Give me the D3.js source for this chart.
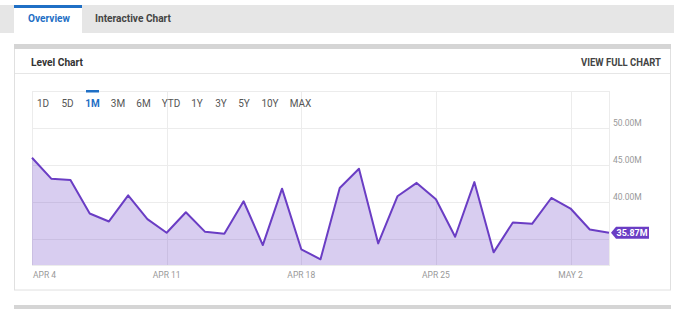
<!DOCTYPE html>
<html lang="en">
<head>
    <meta charset="UTF-8">
    <script src="https://d3js.org/d3.v7.min.js"></script>
    <style>
        body {margin: 0; background-color: #ffffff}
        svg {display: block}
        .cond {font-family: Roboto, "Noto Sans", sans-serif; font-weight: bold}
        .small {font-family: Roboto, "Noto Sans", sans-serif}
    </style>
</head>
<body>
<svg class="level_chart"></svg>
<script type="text/javascript">
    // one point per day, Apr 4 -> May 4
    let start_day = "2021-04-04";
    let level_values = [45.98, 43.16, 42.97, 38.45, 37.38, 40.91, 37.69, 35.85, 38.63, 35.98,
                        35.71, 40.11, 34.19, 41.81, 33.62, 32.27, 41.90, 44.50, 34.42, 40.78,
                        42.59, 40.38, 35.31, 42.70, 33.21, 37.24, 37.06, 40.55, 39.13, 36.30, 35.87];
    let x_tick_dates = ["2021-04-04", "2021-04-11", "2021-04-18", "2021-04-25", "2021-05-02"];
    let x_tick_labels = ["APR 4", "APR 11", "APR 18", "APR 25", "MAY 2"];
    let y_grid_values = [35, 40, 45, 50];
    let y_tick_values = [40, 45, 50];
    let range_buttons = ["1D", "5D", "1M", "3M", "6M", "YTD", "1Y", "3Y", "5Y", "10Y", "MAX"];
    let active_range = "1M";
    let last_label = "35.87M";

    let width = 674, height = 311;
    let plot = {left: 32, right: 609, top: 91, bottom: 265};

    let parse = d3.timeParse("%Y-%m-%d");
    let first = parse(start_day);
    let data = level_values.map(function (v, i) {
        return {date: d3.timeDay.offset(first, i), value: v};
    });

    let svg = d3.select(".level_chart").attr("width", width).attr("height", height);

    // squeezed bold text (condensed look)
    function cond_text(x, y, size, w, color, txt, anchor) {
        return svg.append("text").attr("class", "cond").attr("x", x).attr("y", y)
            .attr("font-size", size).attr("fill", color)
            .attr("text-anchor", anchor || "start")
            .attr("textLength", w).attr("lengthAdjust", "spacingAndGlyphs")
            .text(txt);
    }

    // tab bar
    svg.append("rect").attr("x", 0).attr("y", 5).attr("width", width).attr("height", 28).attr("fill", "#e6e6e6");
    svg.append("rect").attr("x", 14).attr("y", 5).attr("width", 68).attr("height", 28).attr("fill", "#ffffff");
    svg.append("rect").attr("x", 14).attr("y", 5).attr("width", 68).attr("height", 3).attr("fill", "#1f6fc5");
    cond_text(28, 22, 11.5, 42, "#1f6fc5", "Overview");
    cond_text(95, 22, 11.5, 76, "#444", "Interactive Chart");

    // card
    svg.append("rect").attr("x", 14.5).attr("y", 46.5).attr("width", 656).attr("height", 243.5)
        .attr("fill", "#fff").attr("stroke", "#e0e0e0");
    svg.append("rect").attr("x", 14).attr("y", 44).attr("width", 657).attr("height", 5).attr("fill", "#d5d5d5");
    svg.append("line").attr("x1", 15).attr("x2", 670).attr("y1", 73.5).attr("y2", 73.5).attr("stroke", "#e6e6e6");
    cond_text(31, 65.5, 11.5, 52, "#333", "Level Chart");
    cond_text(581, 65.5, 10, 80, "#444", "VIEW FULL CHART");

    // next card top edge
    svg.append("rect").attr("x", 14).attr("y", 305).attr("width", 657).attr("height", 4).attr("fill", "#d5d5d5");

    let x = d3.scaleTime().domain([first, data[data.length - 1].date]).range([plot.left, plot.right]);
    let y = d3.scaleLinear().domain([31.5, 55]).range([plot.bottom, plot.top]);

    // grid
    let grid = svg.append("g").attr("stroke", "#ececec").attr("fill", "none");
    grid.selectAll(".h").data(y_grid_values).enter().append("line")
        .attr("x1", plot.left).attr("x2", plot.right)
        .attr("y1", function (d) { return Math.round(y(d)) + 0.5; })
        .attr("y2", function (d) { return Math.round(y(d)) + 0.5; });
    grid.selectAll(".v").data(x_tick_dates.slice(1)).enter().append("line")
        .attr("y1", plot.top).attr("y2", plot.bottom)
        .attr("x1", function (d) { return Math.round(x(parse(d))) + 0.5; })
        .attr("x2", function (d) { return Math.round(x(parse(d))) + 0.5; });
    grid.append("rect").attr("x", plot.left + 0.5).attr("y", plot.top + 0.5)
        .attr("width", plot.right - plot.left).attr("height", plot.bottom - plot.top);

    // range buttons
    let btn_x = [43, 67.5, 92.5, 118, 143.5, 171, 197, 221, 244, 270, 300.5];
    let btns = svg.append("g").attr("class", "small").attr("font-size", 10);
    btns.selectAll("text").data(range_buttons).enter().append("text")
        .attr("x", function (d, i) { return btn_x[i]; })
        .attr("y", 107)
        .attr("text-anchor", "middle")
        .attr("fill", function (d) { return d === active_range ? "#1f6fc5" : "#555"; })
        .attr("font-weight", function (d) { return d === active_range ? "bold" : "normal"; })
        .text(function (d) { return d; });
    let ai = range_buttons.indexOf(active_range);
    svg.append("rect").attr("x", btn_x[ai] - 6.5).attr("y", 90).attr("width", 13).attr("height", 2.5).attr("fill", "#1f6fc5");

    // area + line
    let area = d3.area()
        .x(function (d) { return x(d.date); })
        .y0(plot.bottom)
        .y1(function (d) { return y(d.value); });
    let line = d3.line()
        .x(function (d) { return x(d.date); })
        .y(function (d) { return y(d.value); });

    svg.append("path").datum(data).attr("d", area).attr("fill", "#6a3dc4").attr("fill-opacity", 0.26);
    svg.append("path").datum(data).attr("d", line).attr("fill", "none")
        .attr("stroke", "#6a3dc4").attr("stroke-width", 2).attr("stroke-linejoin", "round");

    // y labels
    svg.append("g").attr("class", "small").attr("font-size", 8.5).attr("fill", "#999")
        .selectAll("text").data(y_tick_values).enter().append("text")
        .attr("x", 613).attr("y", function (d) { return y(d) - 2; })
        .text(function (d) { return d3.format(".2f")(d) + "M"; });

    // x labels
    svg.append("g").attr("class", "small").attr("font-size", 8.5).attr("fill", "#999")
        .selectAll("text").data(x_tick_dates).enter().append("text")
        .attr("x", function (d, i) { return i === 0 ? plot.left + 1 : x(parse(d)); })
        .attr("y", 278)
        .attr("text-anchor", function (d, i) { return i === 0 ? "start" : "middle"; })
        .text(function (d, i) { return x_tick_labels[i]; });

    // last value tag
    let last = data[data.length - 1];
    let ty = y(last.value);
    let tag = svg.append("g");
    tag.append("path")
        .attr("d", "M" + (plot.right + 2) + "," + ty + " L" + (plot.right + 7) + "," + (ty - 6) +
            " H" + (plot.right + 40) + " V" + (ty + 6) + " H" + (plot.right + 7) + " Z")
        .attr("fill", "#6a3dc4");
    cond_text(plot.right + 7.5, ty + 3.5, 9.5, 31, "#fff", last_label);
</script>
</body>
</html>
